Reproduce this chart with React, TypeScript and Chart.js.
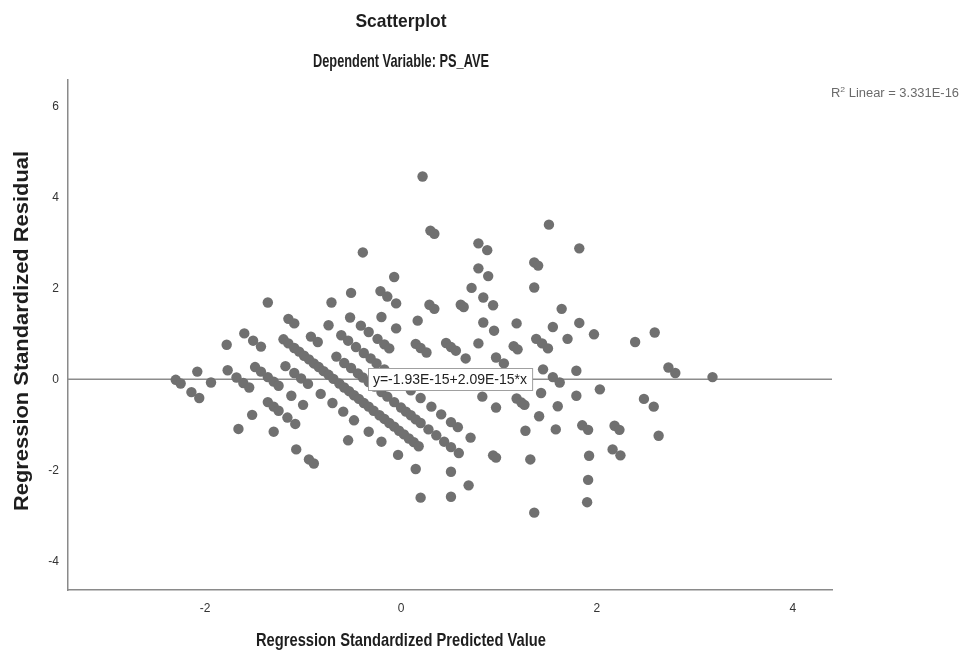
import React, { useEffect, useRef } from "react";
import { Chart, registerables } from "chart.js";

Chart.register(...registerables);

// Regression standardized predicted values (x) and residuals (y), read band by band
const predicted: number[] = [
  // band 0
  -2.30, -2.25, -2.14, -2.06, -1.66,
  // band 1
  -2.08, -1.94, -1.52, -1.30, -1.07, -0.94, -0.89,
  // band 2
  -1.77, -1.68, -1.61, -1.55, -1.36, -1.30, -1.25, -1.16, -1.08,
  // band 3
  -1.78, -1.49, -1.43, -1.36, -1.30, -1.25, -1.12, -1.00, -0.54, 0.20,
  // band 4
  -1.60, -1.51, -1.43, -1.18, -1.09, -1.02, -0.95, -0.82, -0.70, -0.59, -0.48, -0.33, -0.20, -0.03, 0.15, 0.51,
  // band 5
  -1.20, -1.15, -1.09, -1.04, -0.99, -0.94, -0.89, -0.84, -0.79, -0.74, -0.69, -0.63, -0.58, -0.53, -0.48,
  -0.43, -0.38, -0.33, -0.28, -0.22, -0.17, -0.12, -0.07, -0.02, 0.03, 0.08, 0.13, 0.18, 0.51, 0.69,
  // band 6
  -1.36, -1.15, -1.09, -0.92, -0.85, -0.66, -0.58, -0.51, -0.44, -0.39, -0.33, -0.27, -0.20, -0.14, -0.07,
  0.00, 0.05, 0.10, 0.15, 0.20, 0.28, 0.36, 0.44, 0.51, 0.59, 1.36,
  // band 7
  -0.74, -0.61, -0.54, -0.46, -0.38, -0.31, -0.25, -0.17, -0.10, -0.03, 0.04, 0.10, 0.20, 0.31, 0.41,
  0.51, 0.58, 0.71, 0.94, 0.97,
  // band 8
  -0.71, -0.52, -0.41, -0.33, -0.24, -0.17, -0.12, 1.32, 1.90,
  // band 9
  -0.51, -0.20, -0.05, 0.15, 0.20, 0.26, 0.83, 0.97, 1.27, 1.91,
  // band 10
  -0.21, -0.14, -0.05, 0.17, 0.46, 0.51, 0.56, 0.66, 1.18, 1.23, 1.26, 1.41, 1.58, 1.92,
  // band 11
  -0.39, -0.07, 0.29, 0.34, 0.79, 0.97, 1.05, 1.43, 1.60, 1.85, 1.91, 2.16, 2.24,
  // band 12
  0.61, 0.64, 0.84, 0.95, 1.15, 1.19, 1.45, 1.55, 1.62, 1.79, 2.18, 2.23,
  // band 13
  0.72, 0.84, 0.94, 1.18, 1.38, 1.44, 1.50, 1.79, 2.03, 2.63,
  // band 14
  0.30, 0.34, 0.79, 0.89, 1.55, 1.70, 2.48, 2.58,
  // band 15
  0.79, 0.88, 1.36, 1.64, 1.82, 1.97,
  // band 16
  0.22, 1.36, 1.40, 2.39, 2.73, 2.80,
  // band 17
  2.59, 3.18,
  // band 18
  1.51, 1.82,
];

const residual: number[] = [
  // band 0
  -0.01, -0.09, -0.28, -0.41, -1.09,
  // band 1
  0.17, -0.07, -0.78, -1.15, -1.54, -1.76, -1.85,
  // band 2
  0.20, 0.04, -0.08, -0.18, -0.50, -0.60, -0.69, -0.84, -0.98,
  // band 3
  0.76, 0.27, 0.17, 0.05, -0.05, -0.14, -0.36, -0.56, -1.34, -2.60,
  // band 4
  1.01, 0.85, 0.72, 0.29, 0.14, 0.02, -0.10, -0.32, -0.52, -0.71, -0.90, -1.15, -1.37, -1.66, -1.97, -2.58,
  // band 5
  0.88, 0.79, 0.69, 0.61, 0.52, 0.44, 0.35, 0.27, 0.18, 0.10, 0.01, -0.09, -0.18, -0.26, -0.35,
  -0.43, -0.52, -0.60, -0.69, -0.79, -0.87, -0.96, -1.04, -1.13, -1.21, -1.30, -1.38, -1.47, -2.03, -2.33,
  // band 6
  1.69, 1.33, 1.23, 0.94, 0.82, 0.50, 0.36, 0.25, 0.13, 0.04, -0.06, -0.16, -0.28, -0.38, -0.50,
  -0.62, -0.71, -0.79, -0.88, -0.96, -1.10, -1.23, -1.37, -1.49, -1.62, -2.93,
  // band 7
  1.19, 0.97, 0.85, 0.71, 0.58, 0.46, 0.35, 0.22, 0.10, -0.02, -0.14, -0.24, -0.41, -0.60, -0.77,
  -0.94, -1.05, -1.28, -1.67, -1.72,
  // band 8
  1.69, 1.36, 1.18, 1.04, 0.89, 0.77, 0.68, -1.76, -2.70,
  // band 9
  1.90, 1.37, 1.12, 0.78, 0.69, 0.59, -0.38, -0.62, -1.13, -2.21,
  // band 10
  1.94, 1.82, 1.67, 1.29, 0.80, 0.71, 0.63, 0.46, -0.42, -0.51, -0.56, -0.81, -1.10, -1.68,
  // band 11
  2.79, 2.25, 1.64, 1.55, 0.79, 0.48, 0.35, -0.30, -0.59, -1.01, -1.11, -1.54, -1.67,
  // band 12
  1.64, 1.59, 1.25, 1.07, 0.73, 0.66, 0.22, 0.05, -0.07, -0.36, -1.02, -1.11,
  // band 13
  2.01, 1.80, 1.63, 1.23, 0.89, 0.79, 0.68, 0.19, -0.22, -1.24,
  // band 14
  3.27, 3.20, 2.44, 2.27, 1.15, 0.89, -0.43, -0.60,
  // band 15
  2.99, 2.84, 2.02, 1.55, 1.24, 0.99,
  // band 16
  4.46, 2.57, 2.50, 0.82, 0.26, 0.14,
  // band 17
  1.03, 0.05,
  // band 18
  3.40, 2.88,
];

const xTicks = [-2, 0, 2, 4];
const yTicks = [-4, -2, 0, 2, 4, 6];
const xRange = [-3.4, 4.4];
const yRange = [-4.63, 6.58];

const fitIntercept = -1.93e-15;
const fitSlope = 2.09e-15;
const fitLabel = "y=-1.93E-15+2.09E-15*x";
const rSquaredValue = "3.331E-16";

const chartTitle = "Scatterplot";
const chartSubtitle = "Dependent Variable: PS_AVE";
const xAxisTitle = "Regression Standardized Predicted Value";
const yAxisTitle = "Regression Standardized Residual";

const FONT = '"Liberation Sans", Arial, sans-serif';

function fittedText(ctx: CanvasRenderingContext2D, text: string, cx: number, cy: number, width: number, rotate = 0) {
  const m = ctx.measureText(text).width;
  ctx.save();
  ctx.translate(cx, cy);
  if (rotate) ctx.rotate(rotate);
  ctx.scale(width / m, 1);
  ctx.textAlign = "center";
  ctx.fillText(text, 0, 0);
  ctx.restore();
}

export default function App() {
  const canvasRef = useRef<HTMLCanvasElement>(null);

  useEffect(() => {
    const canvas = canvasRef.current;
    if (!canvas) return;

    const overlay = {
      id: "overlay",
      afterDraw(chart: any) {
        const ctx = chart.ctx as CanvasRenderingContext2D;
        const ca = chart.chartArea;
        const xs = chart.scales.x;
        const ys = chart.scales.y;
        ctx.save();
        ctx.textBaseline = "middle";
        ctx.fillStyle = "#1e1e1e";
        ctx.font = `bold 19px ${FONT}`;
        fittedText(ctx, chartTitle, 401, 22, 91);
        fittedText(ctx, chartSubtitle, 401, 62, 176);
        ctx.font = `bold 19px ${FONT}`;
        fittedText(ctx, xAxisTitle, 401, 641, 290);
        ctx.font = `bold 21px ${FONT}`;
        fittedText(ctx, yAxisTitle, 22, 331, 360, -Math.PI / 2);

        // R squared label
        ctx.textBaseline = "alphabetic";
        ctx.fillStyle = "#6a6a6a";
        ctx.textAlign = "left";
        ctx.font = `12px ${FONT}`;
        const x0 = ca.right - 1;
        const ty = 97;
        const rw = ctx.measureText("R").width;
        const lw = ctx.measureText(` Linear = ${rSquaredValue}`).width;
        ctx.font = `8px ${FONT}`;
        const sw = ctx.measureText("2").width;
        const total = rw + sw + lw;
        const sx = 128 / total;
        ctx.save();
        ctx.translate(x0, ty);
        ctx.scale(sx, 1);
        ctx.font = `12px ${FONT}`;
        ctx.fillText("R", 0, 0);
        ctx.font = `8px ${FONT}`;
        ctx.fillText("2", rw, -5);
        ctx.font = `12px ${FONT}`;
        ctx.fillText(` Linear = ${rSquaredValue}`, rw + sw, 0);
        ctx.restore();

        // equation label box on the fit line
        const cx = (ca.left + ca.right) / 2;
        const xv = xs.getValueForPixel(cx);
        const cy = ys.getPixelForValue(fitIntercept + fitSlope * xv);
        ctx.font = `14px ${FONT}`;
        const w = ctx.measureText(fitLabel).width + 10;
        const h = 22;
        const bx = Math.round(cx - w / 2) + 0.5;
        const by = Math.round(cy - h / 2) + 0.5;
        ctx.fillStyle = "#ffffff";
        ctx.fillRect(bx, by, w, h);
        ctx.strokeStyle = "#a0a0a0";
        ctx.lineWidth = 1;
        ctx.strokeRect(bx, by, w, h);
        ctx.fillStyle = "#222222";
        ctx.textAlign = "center";
        ctx.textBaseline = "middle";
        ctx.fillText(fitLabel, cx, cy + 1);
        ctx.restore();
      },
    };

    const points = predicted.map((x, i) => ({ x, y: residual[i] }));
    const fitLine = [xRange[0], xRange[1]].map((x) => ({ x, y: fitIntercept + fitSlope * x }));

    const chart = new Chart(canvas, {
      type: "scatter",
      data: {
        datasets: [
          {
            label: "Residuals",
            data: points,
            backgroundColor: "#707070",
            borderWidth: 0,
            pointRadius: 5.2,
            pointHoverRadius: 5.2,
            order: 0,
          },
          {
            label: "Fit",
            data: fitLine,
            showLine: true,
            borderColor: "#8c8c8c",
            borderWidth: 1.5,
            pointRadius: 0,
            order: 1,
          },
        ],
      },
      options: {
        responsive: false,
        animation: false,
        devicePixelRatio: 1,
        layout: { padding: { left: 0, top: 80, right: 138, bottom: 0 } },
        plugins: {
          legend: { display: false },
          tooltip: { enabled: false },
          title: { display: false },
        },
        scales: {
          x: {
            type: "linear",
            min: xRange[0],
            max: xRange[1],
            afterBuildTicks: (s: any) => {
              s.ticks = xTicks.map((v) => ({ value: v }));
            },
            afterFit: (s: any) => {
              s.height = 65;
            },
            grid: { display: false, drawTicks: false },
            border: { display: true, color: "#8a8a8a", width: 1.5 },
            ticks: { color: "#333", font: { family: FONT, size: 12 }, padding: 11 },
          },
          y: {
            type: "linear",
            min: yRange[0],
            max: yRange[1],
            afterBuildTicks: (s: any) => {
              s.ticks = yTicks.map((v) => ({ value: v }));
            },
            afterFit: (s: any) => {
              s.width = 68;
            },
            grid: { display: false, drawTicks: false },
            border: { display: true, color: "#8a8a8a", width: 1.5 },
            ticks: { color: "#333", font: { family: FONT, size: 12 }, padding: 9 },
          },
        },
      },
      plugins: [overlay],
    });

    return () => chart.destroy();
  }, []);

  return (
    <div style={{ position: "absolute", left: 0, top: 0, width: 970, height: 655, background: "#fff" }}>
      <canvas ref={canvasRef} width={970} height={655} style={{ display: "block" }} />
    </div>
  );
}
